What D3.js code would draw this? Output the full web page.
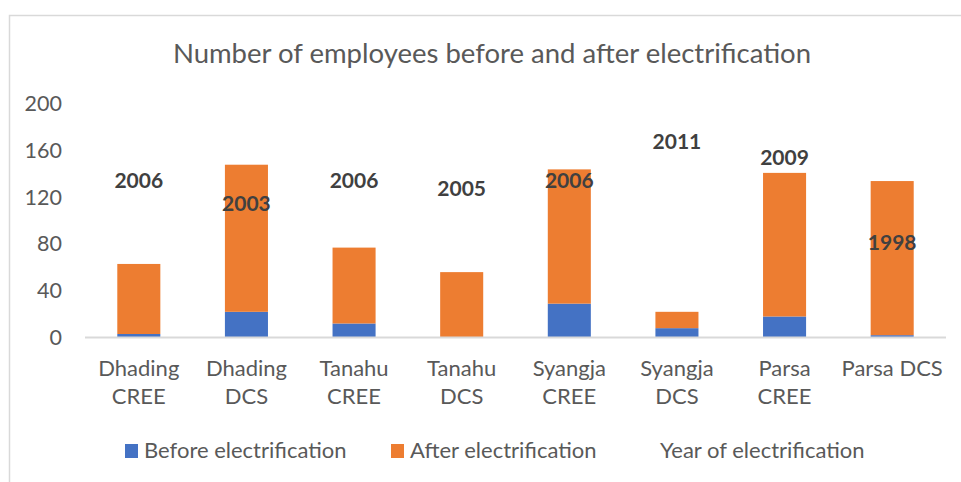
<!DOCTYPE html>
<html><head><meta charset="utf-8">
<script src="https://cdn.jsdelivr.net/npm/d3@7"></script>
<style>body{margin:0;background:#fff;} svg{display:block;font-family:Lato, "Open Sans", sans-serif;}</style>
</head><body>
<svg id="c" width="961" height="482"></svg>
<script>
const categories = ["Dhading CREE","Dhading DCS","Tanahu CREE","Tanahu DCS","Syangja CREE","Syangja DCS","Parsa CREE","Parsa DCS"];
const categoryLines = [["Dhading","CREE"],["Dhading","DCS"],["Tanahu","CREE"],["Tanahu","DCS"],["Syangja","CREE"],["Syangja","DCS"],["Parsa","CREE"],["Parsa DCS"]];
const beforeValues = [3,22,12,0,29,8,18,2];
const afterValues = [60,126,65,56,115,14,123,132];
const yearValues = [2006,2003,2006,2005,2006,2011,2009,1998];
const yTicks = [0,40,80,120,160,200];
const seriesNames = ["Before electrification","After electrification","Year of electrification"];
const colors = ["#4472C4","#ED7D31"];

const svg = d3.select("#c");
// frame
svg.append("rect").attr("x",9.5).attr("y",15.5).attr("width",1000).attr("height",600)
  .attr("fill","none").attr("stroke","#D9D9D9").attr("stroke-width",1.5);

const x = d3.scaleBand().domain(categories).range([85,946]).paddingInner(0.6).paddingOuter(0.3);
const y = d3.scaleLinear().domain([0,200]).range([337.5,104]);
const y2 = d3.scaleLinear().domain([1985,2015]).range([337.5,104]);

svg.append("text").attr("x",492).attr("y",63).attr("text-anchor","middle")
  .attr("font-size",27.5).attr("fill","#595959").text("Number of employees before and after electrification");

// y axis labels
const yAxis = d3.axisLeft(y).tickValues(yTicks).tickSize(0).tickPadding(0);
const ya = svg.append("g").attr("transform","translate(62,0)").call(yAxis);
ya.select(".domain").remove();
ya.selectAll("text").attr("font-size",21.5).attr("fill","#595959").attr("font-family","Lato, 'Open Sans', sans-serif");

// stacked data
const stackData = categories.map((c,i)=>({cat:c, before:beforeValues[i], after:afterValues[i]}));
const stack = d3.stack().keys(["before","after"])(stackData);
svg.append("g").selectAll("g").data(stack).join("g").attr("fill",(d,i)=>colors[i])
  .selectAll("rect").data(d=>d).join("rect")
  .attr("x",d=>x(d.data.cat)).attr("width",x.bandwidth())
  .attr("y",d=>y(d[1])).attr("height",d=>y(d[0])-y(d[1]));

// baseline
svg.append("line").attr("x1",85).attr("x2",946).attr("y1",y(0)).attr("y2",y(0))
  .attr("stroke","#D9D9D9").attr("stroke-width",2);

// x labels
const xl = svg.append("g");
categories.forEach((c,i)=>{
  const t = xl.append("text").attr("x",x(c)+x.bandwidth()/2).attr("y",376)
    .attr("text-anchor","middle").attr("font-size",22).attr("fill","#595959");
  categoryLines[i].forEach((ln,j)=>{
    t.append("tspan").attr("x",x(c)+x.bandwidth()/2).attr("dy",j===0?0:28).text(ln);
  });
});

// year labels
svg.append("g").selectAll("text").data(yearValues).join("text")
  .attr("x",(d,i)=>x(categories[i])+x.bandwidth()/2)
  .attr("y",d=>y2(d)+14)
  .attr("text-anchor","middle").attr("font-size",21).attr("font-weight","bold")
  .attr("fill","#404040").text(d=>d);

// legend
const legendX = [125,391,641];
const lg = svg.append("g");
seriesNames.forEach((s,i)=>{
  if(i<2) lg.append("rect").attr("x",legendX[i]).attr("y",444).attr("width",13).attr("height",14).attr("fill",colors[i]);
  lg.append("text").attr("x",legendX[i]+19).attr("y",458).attr("font-size",22).attr("fill","#595959").text(s);
});
</script>
</body></html>
